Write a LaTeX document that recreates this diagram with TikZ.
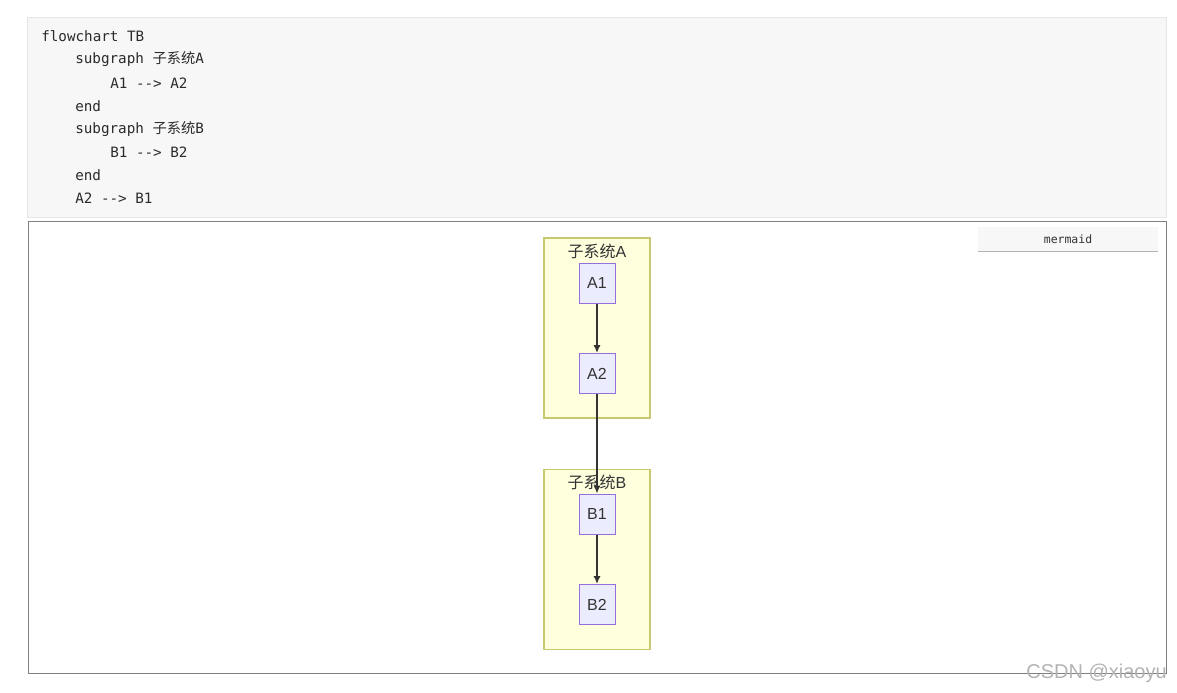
\documentclass[tikz,border=0pt]{standalone}
\usepackage{fontspec}
\setmainfont{Liberation Sans}
\setmonofont{DejaVu Sans Mono}
\newfontfamily\cjk{Noto Sans CJK SC}
\usepackage{tikz}
\usetikzlibrary{arrows.meta}
\definecolor{codebg}{HTML}{F7F7F7}
\definecolor{codeline}{HTML}{E6E6E6}
\definecolor{txt}{HTML}{333333}
\definecolor{clfill}{HTML}{FFFFDE}
\definecolor{clline}{HTML}{C8C86E}
\definecolor{ndfill}{HTML}{ECECFF}
\definecolor{ndline}{HTML}{9370DB}

\begin{document}
\begin{tikzpicture}[x=0.75pt,y=-0.75pt,
		codetext/.style={anchor=west, inner sep=0pt, text=txt!85!black, font=\ttfamily\fontsize{10.7}{12}\selectfont},
		cluster/.style={draw=clline, fill=clfill, line width=0.9pt, minimum width=79.5pt, minimum height=135pt, inner sep=0pt},
		cltitle/.style={text=txt, inner sep=0pt, font=\fontsize{12}{14}\selectfont},
		box/.style={draw=ndline, fill=ndfill, line width=0.75pt, minimum width=27pt, minimum height=30pt, inner sep=0pt, text=txt, font=\fontsize{12}{14}\selectfont},
		edge/.style={draw=txt, line width=1.5pt, -{Latex[length=6pt,width=5.5pt]}}]
		\useasboundingbox (0,0) rectangle (1177,692);
		% code block
		\draw[codeline, fill=codebg] (27,17) rectangle (1166,217);
		\node[codetext] (l1) at (41,36) {flowchart TB};
		\node[codetext] (l2) at (75,59) {subgraph {\cjk 子系统}A};
		\node[codetext] (l3) at (110,83) {A1 --> A2};
		\node[codetext] (l4) at (75,106) {end};
		\node[codetext] (l5) at (75,129) {subgraph {\cjk 子系统}B};
		\node[codetext] (l6) at (110,152) {B1 --> B2};
		\node[codetext] (l7) at (75,175) {end};
		\node[codetext] (l8) at (75,198) {A2 --> B1};
		% diagram frame
		\draw[gray] (28,221) rectangle (1166,673);
		\fill[codebg] (978,227) rectangle (1158,251);
		\draw[gray!60] (978,251) -- (1158,251);
		\node[inner sep=0pt, text=txt, font=\ttfamily\fontsize{8.6}{10}\selectfont] (btn) at (1068,239) {mermaid};
		% subgraphs
		\node[cluster] (sgA) at (597,328) {};
		\node[cluster] (sgB) at (597,559.5) {};
		\node[cltitle] (tA) at (597,251) {{\cjk 子系统}A};
		\node[cltitle] (tB) at (597,482) {{\cjk 子系统}B};
		% nodes
		\node[box] (A1) at (597,283) {A1};
		\node[box] (A2) at (597,373.5) {A2};
		\node[box] (B1) at (597,514) {B1};
		\node[box] (B2) at (597,604.5) {B2};
		\draw[edge] (A1) -- (A2);
		\draw[edge] (A2) -- (B1);
		\draw[edge] (B1) -- (B2);
		% watermark
		\node[anchor=east, inner sep=0pt, text=gray!60, font=\fontsize{15}{17}\selectfont] (wm) at (1167,673) {CSDN @xiaoyu};
	\end{tikzpicture}
\end{document}
